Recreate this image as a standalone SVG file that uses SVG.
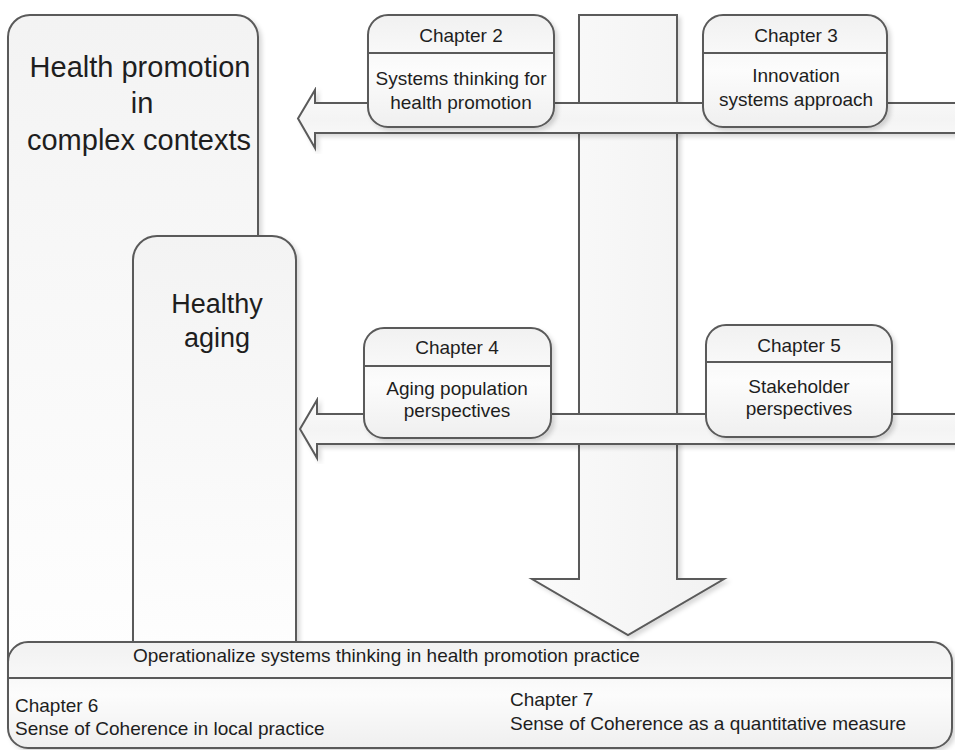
<svg xmlns="http://www.w3.org/2000/svg" width="955" height="750" viewBox="0 0 955 750">
<defs>
<linearGradient id="gBox" x1="0" y1="0" x2="0" y2="1">
<stop offset="0" stop-color="#f1f1f1"/>
<stop offset="0.5" stop-color="#fcfcfc"/>
<stop offset="1" stop-color="#efefef"/>
</linearGradient>
<linearGradient id="gBig" x1="0" y1="0" x2="0" y2="1">
<stop offset="0" stop-color="#f3f3f3"/>
<stop offset="1" stop-color="#ffffff"/>
</linearGradient>
<linearGradient id="gArr" x1="0" y1="0" x2="0" y2="1">
<stop offset="0" stop-color="#fbfbfb"/>
<stop offset="0.5" stop-color="#f4f4f4"/>
<stop offset="1" stop-color="#fbfbfb"/>
</linearGradient>
<linearGradient id="gV" x1="0" y1="0" x2="1" y2="0">
<stop offset="0" stop-color="#fafafa"/>
<stop offset="1" stop-color="#f2f2f2"/>
</linearGradient>
<filter id="sh" x="-5%" y="-5%" width="115%" height="115%">
<feDropShadow dx="3" dy="3" stdDeviation="2" flood-color="#000" flood-opacity="0.15"/>
</filter>
</defs>
<style>
.box{stroke:#5a5a5a;stroke-width:2;fill:url(#gBox);filter:url(#sh)}
.big{stroke:#5a5a5a;stroke-width:2;fill:url(#gBig);filter:url(#sh)}
.arr{stroke:#5a5a5a;stroke-width:2;stroke-linejoin:miter;filter:url(#sh)}
.div{stroke:#5a5a5a;stroke-width:2}
text{font-family:"Liberation Sans",Arial,sans-serif;fill:#1e1e1e}
.t{font-size:19px}
.c{text-anchor:middle}
.h1{font-size:29px}
.h2{font-size:27px}
</style>
<rect width="955" height="750" fill="#ffffff"/>

<g id="health-promotion">
<rect class="big" x="8" y="15" width="250" height="700" rx="22"/>
<text class="h1 c" x="140" y="77">Health promotion</text>
<text class="h1 c" x="142" y="113">in</text>
<text class="h1 c" x="139" y="150">complex contexts</text>
</g>

<g id="healthy-aging">
<rect class="big" x="133" y="236" width="163" height="470" rx="24"/>
<text class="h2 c" x="217" y="313">Healthy</text>
<text class="h2 c" x="217" y="347">aging</text>
</g>

<g id="connectors">
<polygon class="arr" fill="url(#gV)" points="579,15 677,15 677,579 724,579 628,635 532,579 579,579"/>
<polygon class="arr" fill="url(#gArr)" points="960,103 315,103 315,90 298,118.5 315,148 315,133 960,133"/>
<polygon class="arr" fill="url(#gArr)" points="960,414 317,414 317,400 300,429 317,458 317,444 960,444"/>
</g>

<g id="chapter2">
<rect class="box" x="368" y="15" width="186" height="112" rx="20"/>
<line class="div" x1="368" y1="53" x2="554" y2="53"/>
<text class="t c" x="461" y="42">Chapter 2</text>
<text class="t c" x="461" y="85">Systems thinking for</text>
<text class="t c" x="461" y="109">health promotion</text>
</g>

<g id="chapter3">
<rect class="box" x="703" y="15" width="184" height="112" rx="20"/>
<line class="div" x1="703" y1="53" x2="887" y2="53"/>
<text class="t c" x="796" y="42">Chapter 3</text>
<text class="t c" x="796" y="82">Innovation</text>
<text class="t c" x="796" y="106">systems approach</text>
</g>

<g id="chapter4">
<rect class="box" x="364" y="328" width="187" height="110" rx="20"/>
<line class="div" x1="364" y1="366" x2="551" y2="366"/>
<text class="t c" x="457" y="354">Chapter 4</text>
<text class="t c" x="457" y="395">Aging population</text>
<text class="t c" x="457" y="417">perspectives</text>
</g>

<g id="chapter5">
<rect class="box" x="706" y="325" width="186" height="112" rx="20"/>
<line class="div" x1="706" y1="362" x2="892" y2="362"/>
<text class="t c" x="799" y="352">Chapter 5</text>
<text class="t c" x="799" y="393">Stakeholder</text>
<text class="t c" x="799" y="415">perspectives</text>
</g>

<g id="operationalize">
<rect class="box" x="8" y="642" width="944" height="106" rx="20"/>
<line class="div" x1="8" y1="678" x2="952" y2="678"/>
<text class="t" x="133" y="662">Operationalize systems thinking in health promotion practice</text>
<text class="t" x="15" y="712">Chapter 6</text>
<text class="t" x="15" y="735">Sense of Coherence in local practice</text>
<text class="t" x="510" y="706">Chapter 7</text>
<text class="t" x="510" y="730">Sense of Coherence as a quantitative measure</text>
</g>
</svg>
